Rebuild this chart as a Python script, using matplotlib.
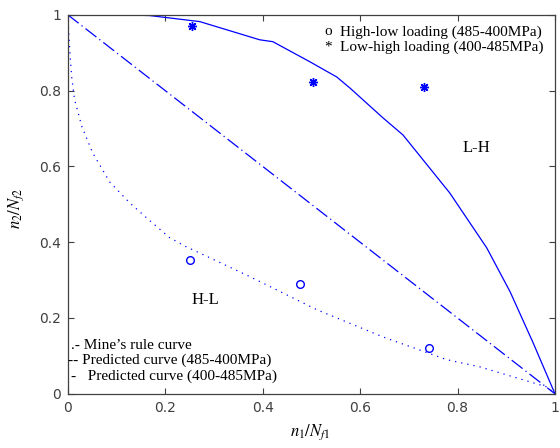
import numpy as np
import matplotlib
matplotlib.use("Agg")
import matplotlib.pyplot as plt

# Miner's rule line
miner_x = [0.0, 1.0]
miner_y = [1.0, 0.0]

# predicted curve, low-high loading (400-485MPa), solid
lh_x = [0.107, 0.168, 0.271, 0.394, 0.421, 0.497, 0.552, 0.579, 0.647, 0.688,
        0.784, 0.860, 0.908, 0.955, 1.0]
lh_y = [1.0, 0.998, 0.982, 0.934, 0.929, 0.876, 0.836, 0.807, 0.728, 0.683,
        0.530, 0.385, 0.269, 0.135, 0.0]

# predicted curve, high-low loading (485-400MPa), dotted
hl_x = [0.0, 0.004, 0.008, 0.014, 0.029, 0.051, 0.086, 0.127, 0.162, 0.209,
        0.240, 0.374, 0.511, 0.647, 0.778, 0.846, 0.984, 1.0]
hl_y = [1.0, 0.908, 0.836, 0.776, 0.705, 0.636, 0.559, 0.504, 0.464, 0.412,
        0.390, 0.309, 0.222, 0.150, 0.090, 0.071, 0.018, 0.0]

# experiments
exp_hl_x = [0.251, 0.476, 0.741]
exp_hl_y = [0.354, 0.290, 0.121]
exp_lh_x = [0.254, 0.503, 0.731]
exp_lh_y = [0.971, 0.823, 0.810]

ticks = [0, 0.2, 0.4, 0.6, 0.8, 1]
tick_labels = ["0", "0.2", "0.4", "0.6", "0.8", "1"]

plt.rcParams["mathtext.fontset"] = "stix"
serif = "Liberation Serif"
gray = "#404040"

fig = plt.figure(figsize=(5.6, 4.48), dpi=100)
ax = fig.add_axes([0.121, 0.121, 0.870, 0.846])

ax.plot(miner_x, miner_y, color="b", lw=0.9, linestyle=(0, (11, 3, 1, 3)))
ax.plot(lh_x, lh_y, color="b", lw=0.9, linestyle="-")
ax.plot(hl_x, hl_y, color="b", lw=0.9, linestyle=(0, (1, 4)))
ax.plot(exp_hl_x, exp_hl_y, linestyle="none", marker="o", ms=5.5,
        mfc="none", mec="b", mew=1.0)
ax.plot(exp_lh_x, exp_lh_y, linestyle="none", marker=(8, 2, 0), ms=6.5,
        mec="b", mew=1.0)

ax.set_xlim(0, 1)
ax.set_ylim(0, 1)
ax.set_xticks(ticks)
ax.set_xticklabels(tick_labels)
ax.set_yticks(ticks)
ax.set_yticklabels(tick_labels)
ax.tick_params(direction="in", length=4, width=0.8, colors=gray,
               top=True, right=True, labelsize=10, pad=5)
for s in ax.spines.values():
    s.set_color(gray)
    s.set_linewidth(0.9)

ax.set_xlabel(r"$n_{\mathit{1}}/N_{\mathit{f1}}$", fontsize=12, color="k")
ax.set_ylabel(r"$n_{\mathit{2}}/N_{\mathit{f2}}$", fontsize=12, color="k")
ax.xaxis.set_label_coords(0.497, -0.075)
ax.yaxis.set_label_coords(-0.085, 0.49)

# marker key, top right
ax.text(0.526, 0.955, "o", family=serif, fontsize=11, va="center")
ax.text(0.558, 0.955, "High-low loading (485-400MPa)", family=serif,
        fontsize=11, va="center")
ax.text(0.526, 0.915, "*", family=serif, fontsize=11, va="center")
ax.text(0.558, 0.915, "Low-high loading (400-485MPa)", family=serif,
        fontsize=11, va="center")

# line key, bottom left
ax.text(0.006, 0.128, ".- Mine\u2019s rule curve", family=serif, fontsize=11,
        va="center")
ax.text(0.0, 0.088, "-- Predicted curve (485-400MPa)", family=serif,
        fontsize=11, va="center")
ax.text(0.006, 0.046, "-   Predicted curve (400-485MPa)", family=serif,
        fontsize=11, va="center")

ax.text(0.283, 0.248, "H-L", family=serif, fontsize=12, ha="center", va="center")
ax.text(0.838, 0.649, "L-H", family=serif, fontsize=12, ha="center", va="center")

fig.savefig("out.png", dpi=100)
